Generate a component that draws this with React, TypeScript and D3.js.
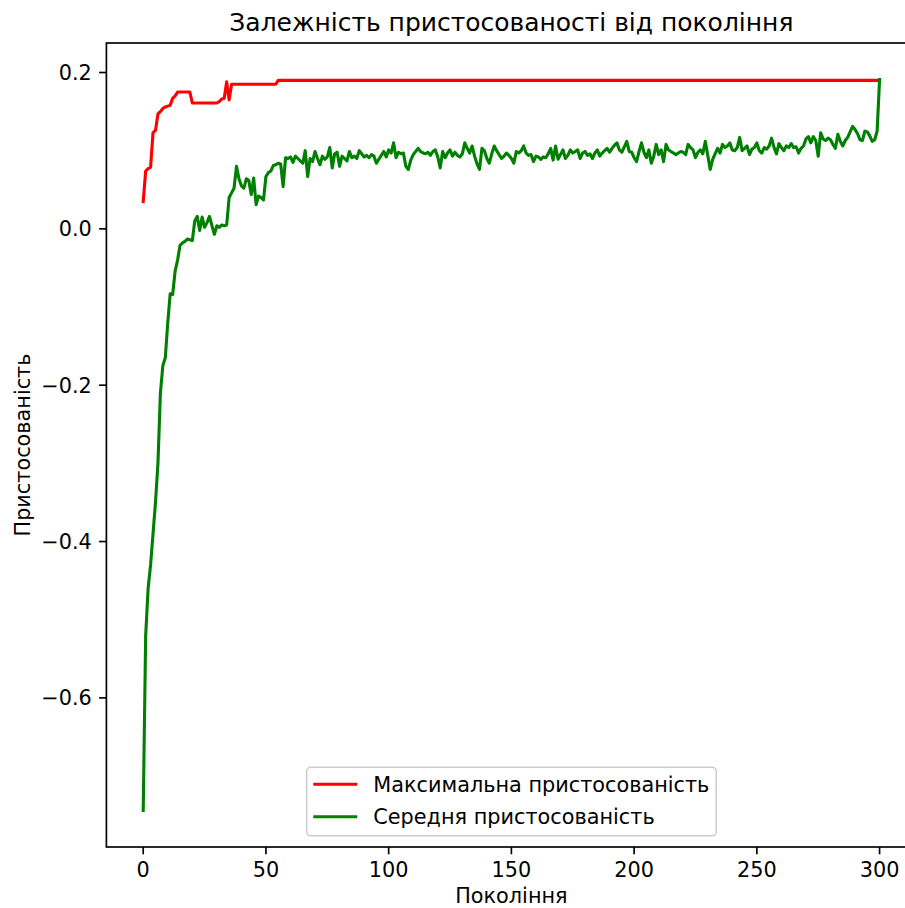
import React from "react";
import * as d3 from "d3";

// Generation numbers 0..300
const generations: number[] = Array.from({ length: 301 }, (_, i) => i);

// Best fitness in each generation
const maxFitness: number[] = [
  0.035, 0.074, 0.077, 0.079, 0.123, 0.126, 0.147, 0.150, 0.154, 0.156,
  0.157, 0.158, 0.167, 0.170, 0.175, 0.175, 0.175, 0.175, 0.175, 0.175,
  0.161, 0.161, 0.161, 0.161, 0.161, 0.161, 0.161, 0.161, 0.161, 0.161,
  0.161, 0.163, 0.166, 0.167, 0.188, 0.165, 0.185, 0.185, 0.185, 0.185,
  0.185, 0.185, 0.185, 0.185, 0.185, 0.185, 0.185, 0.185, 0.185, 0.185,
  0.185, 0.185, 0.185, 0.185, 0.185, 0.190, 0.190, 0.190, 0.190, 0.190,
  0.190, 0.190, 0.190, 0.190, 0.190, 0.190, 0.190, 0.190, 0.190, 0.190,
  0.190, 0.190, 0.190, 0.190, 0.190, 0.190, 0.190, 0.190, 0.190, 0.190,
  0.190, 0.190, 0.190, 0.190, 0.190, 0.190, 0.190, 0.190, 0.190, 0.190,
  0.190, 0.190, 0.190, 0.190, 0.190, 0.190, 0.190, 0.190, 0.190, 0.190,
  0.190, 0.190, 0.190, 0.190, 0.190, 0.190, 0.190, 0.190, 0.190, 0.190,
  0.190, 0.190, 0.190, 0.190, 0.190, 0.190, 0.190, 0.190, 0.190, 0.190,
  0.190, 0.190, 0.190, 0.190, 0.190, 0.190, 0.190, 0.190, 0.190, 0.190,
  0.190, 0.190, 0.190, 0.190, 0.190, 0.190, 0.190, 0.190, 0.190, 0.190,
  0.190, 0.190, 0.190, 0.190, 0.190, 0.190, 0.190, 0.190, 0.190, 0.190,
  0.190, 0.190, 0.190, 0.190, 0.190, 0.190, 0.190, 0.190, 0.190, 0.190,
  0.190, 0.190, 0.190, 0.190, 0.190, 0.190, 0.190, 0.190, 0.190, 0.190,
  0.190, 0.190, 0.190, 0.190, 0.190, 0.190, 0.190, 0.190, 0.190, 0.190,
  0.190, 0.190, 0.190, 0.190, 0.190, 0.190, 0.190, 0.190, 0.190, 0.190,
  0.190, 0.190, 0.190, 0.190, 0.190, 0.190, 0.190, 0.190, 0.190, 0.190,
  0.190, 0.190, 0.190, 0.190, 0.190, 0.190, 0.190, 0.190, 0.190, 0.190,
  0.190, 0.190, 0.190, 0.190, 0.190, 0.190, 0.190, 0.190, 0.190, 0.190,
  0.190, 0.190, 0.190, 0.190, 0.190, 0.190, 0.190, 0.190, 0.190, 0.190,
  0.190, 0.190, 0.190, 0.190, 0.190, 0.190, 0.190, 0.190, 0.190, 0.190,
  0.190, 0.190, 0.190, 0.190, 0.190, 0.190, 0.190, 0.190, 0.190, 0.190,
  0.190, 0.190, 0.190, 0.190, 0.190, 0.190, 0.190, 0.190, 0.190, 0.190,
  0.190, 0.190, 0.190, 0.190, 0.190, 0.190, 0.190, 0.190, 0.190, 0.190,
  0.190, 0.190, 0.190, 0.190, 0.190, 0.190, 0.190, 0.190, 0.190, 0.190,
  0.190, 0.190, 0.190, 0.190, 0.190, 0.190, 0.190, 0.190, 0.190, 0.190,
  0.190, 0.190, 0.190, 0.190, 0.190, 0.190, 0.190, 0.190, 0.190, 0.190,
  0.190,
];

// Mean fitness of the population in each generation
const meanFitness: number[] = [
  -0.744, -0.520, -0.460, -0.430, -0.390, -0.350, -0.300, -0.210, -0.175, -0.165,
  -0.120, -0.083, -0.084, -0.054, -0.040, -0.021, -0.018, -0.016, -0.013, -0.014,
  -0.015, 0.010, 0.016, -0.002, 0.015, 0.002, 0.008, 0.016, 0.004, -0.007,
  0.004, 0.002, 0.005, 0.004, 0.005, 0.040, 0.046, 0.052, 0.080, 0.064,
  0.055, 0.052, 0.064, 0.062, 0.044, 0.065, 0.031, 0.042, 0.040, 0.037,
  0.067, 0.072, 0.074, 0.081, 0.082, 0.084, 0.083, 0.054, 0.091, 0.090,
  0.092, 0.085, 0.093, 0.090, 0.087, 0.084, 0.100, 0.067, 0.090, 0.086,
  0.099, 0.090, 0.082, 0.093, 0.089, 0.092, 0.104, 0.078, 0.096, 0.098,
  0.080, 0.093, 0.090, 0.087, 0.099, 0.091, 0.093, 0.090, 0.100, 0.096,
  0.092, 0.094, 0.091, 0.095, 0.093, 0.084, 0.089, 0.094, 0.099, 0.092,
  0.101, 0.097, 0.110, 0.091, 0.098, 0.096, 0.097, 0.080, 0.076, 0.088,
  0.095, 0.099, 0.103, 0.099, 0.097, 0.096, 0.098, 0.094, 0.099, 0.101,
  0.092, 0.078, 0.099, 0.091, 0.097, 0.101, 0.093, 0.098, 0.094, 0.092,
  0.096, 0.110, 0.103, 0.097, 0.106, 0.093, 0.083, 0.076, 0.103, 0.100,
  0.090, 0.084, 0.096, 0.106, 0.100, 0.095, 0.090, 0.093, 0.097, 0.094,
  0.090, 0.084, 0.099, 0.097, 0.100, 0.106, 0.097, 0.094, 0.095, 0.086,
  0.093, 0.092, 0.089, 0.092, 0.091, 0.096, 0.103, 0.088, 0.106, 0.089,
  0.095, 0.101, 0.090, 0.094, 0.101, 0.097, 0.099, 0.101, 0.090, 0.097,
  0.099, 0.094, 0.096, 0.090, 0.097, 0.101, 0.093, 0.097, 0.100, 0.103,
  0.098, 0.103, 0.107, 0.110, 0.101, 0.098, 0.105, 0.112, 0.099, 0.098,
  0.091, 0.086, 0.099, 0.110, 0.098, 0.091, 0.101, 0.084, 0.093, 0.108,
  0.095, 0.101, 0.086, 0.108, 0.101, 0.099, 0.097, 0.095, 0.097, 0.099,
  0.098, 0.095, 0.108, 0.104, 0.101, 0.091, 0.098, 0.101, 0.096, 0.112,
  0.094, 0.076, 0.089, 0.096, 0.103, 0.097, 0.108, 0.104, 0.106, 0.110,
  0.101, 0.100, 0.104, 0.117, 0.100, 0.103, 0.106, 0.095, 0.102, 0.104,
  0.110, 0.100, 0.097, 0.104, 0.102, 0.106, 0.116, 0.104, 0.096, 0.109,
  0.104, 0.100, 0.106, 0.104, 0.109, 0.104, 0.105, 0.097, 0.103, 0.106,
  0.115, 0.118, 0.110, 0.118, 0.113, 0.093, 0.123, 0.115, 0.113, 0.116,
  0.114, 0.108, 0.103, 0.121, 0.112, 0.106, 0.113, 0.117, 0.124, 0.131,
  0.127, 0.122, 0.114, 0.113, 0.125, 0.124, 0.119, 0.112, 0.114, 0.125,
  0.191,
];

const seriesLabels = ["Максимальна пристосованість", "Середня пристосованість"];
const seriesColors = ["#ff0000", "#008000"];

const titleText = "Залежність пристосованості від покоління";
const xLabelText = "Покоління";
const yLabelText = "Пристосованість";

const W = 905;
const H = 908;
const plot = { left: 106.4, right: 916.4, top: 43, bottom: 847 };
const FONT = "'DejaVu Sans', sans-serif";
const FS = 20.8;
const TICK = 7.3;
const PAD = 7.3;
const SPINE = 1.67;
const LW = 3.1;

export default function App() {
  const xExt = d3.extent(generations) as [number, number];
  const allY = [...maxFitness, ...meanFitness];
  const yMin = d3.min(allY) as number;
  const yMax = d3.max(allY) as number;
  const xPad = (xExt[1] - xExt[0]) * 0.05;
  const yPad = (yMax - yMin) * 0.05;

  const x = d3
    .scaleLinear()
    .domain([xExt[0] - xPad, xExt[1] + xPad])
    .range([plot.left, plot.right]);
  const y = d3
    .scaleLinear()
    .domain([yMin - yPad, yMax + yPad])
    .range([plot.bottom, plot.top]);

  const xTicks = x.ticks(7).filter((t) => t >= 0 && t <= 300);
  const yTicks = y.ticks(5);
  const yFmt = d3.format(".1f");

  const line = d3
    .line<number>()
    .x((_, i) => x(generations[i]))
    .y((d) => y(d));

  const series = [maxFitness, meanFitness];

  const legend = { x: 306.7, y: 767.3, w: 409.5, h: 68.5 };

  return (
    <svg
      width={W}
      height={H}
      style={{ position: "absolute", left: 0, top: 0, background: "#fff" }}
      fontFamily={FONT}
    >
      <rect x={0} y={0} width={W} height={H} fill="#fff" />
      <defs>
        <clipPath id="plotArea">
          <rect
            x={plot.left}
            y={plot.top}
            width={plot.right - plot.left}
            height={plot.bottom - plot.top}
          />
        </clipPath>
      </defs>

      {/* series */}
      <g clipPath="url(#plotArea)">
        {series.map((s, k) => (
          <path
            key={k}
            d={line(s) ?? ""}
            fill="none"
            stroke={seriesColors[k]}
            strokeWidth={LW}
            strokeLinejoin="round"
            strokeLinecap="square"
          />
        ))}
      </g>

      {/* spines */}
      <rect
        x={plot.left}
        y={plot.top}
        width={plot.right - plot.left}
        height={plot.bottom - plot.top}
        fill="none"
        stroke="#000"
        strokeWidth={SPINE}
      />

      {/* x axis */}
      {xTicks.map((t) => (
        <g key={`x${t}`}>
          <line
            x1={x(t)}
            x2={x(t)}
            y1={plot.bottom}
            y2={plot.bottom + TICK}
            stroke="#000"
            strokeWidth={SPINE}
          />
          <text
            x={x(t)}
            y={plot.bottom + TICK + PAD + 15.4}
            textAnchor="middle"
            fontSize={FS}
            fill="#000"
          >
            {t}
          </text>
        </g>
      ))}

      {/* y axis */}
      {yTicks.map((t) => (
        <g key={`y${t}`}>
          <line
            x1={plot.left - TICK}
            x2={plot.left}
            y1={y(t)}
            y2={y(t)}
            stroke="#000"
            strokeWidth={SPINE}
          />
          <text
            x={plot.left - TICK - PAD}
            y={y(t)}
            dy="0.36em"
            textAnchor="end"
            fontSize={FS}
            fill="#000"
          >
            {yFmt(t)}
          </text>
        </g>
      ))}

      {/* labels */}
      <text
        x={(plot.left + plot.right) / 2}
        y={30.5}
        textAnchor="middle"
        fontSize={FS * 1.2}
        fill="#000"
      >
        {titleText}
      </text>
      <text
        x={(plot.left + plot.right) / 2}
        y={903}
        textAnchor="middle"
        fontSize={FS}
        fill="#000"
      >
        {xLabelText}
      </text>
      <text
        transform={`translate(29.5, ${(plot.top + plot.bottom) / 2}) rotate(-90)`}
        textAnchor="middle"
        fontSize={FS}
        fill="#000"
      >
        {yLabelText}
      </text>

      {/* legend */}
      <g>
        <rect
          x={legend.x}
          y={legend.y}
          width={legend.w}
          height={legend.h}
          rx={4}
          fill="#fff"
          fillOpacity={0.8}
          stroke="#cccccc"
          strokeWidth={1.5}
        />
        {seriesLabels.map((lab, k) => {
          const cy = 784.3 + k * 32.4;
          return (
            <g key={lab}>
              <line
                x1={313.3}
                x2={357.3}
                y1={cy}
                y2={cy}
                stroke={seriesColors[k]}
                strokeWidth={LW}
              />
              <text x={373.3} y={cy} dy="0.36em" fontSize={FS} fill="#000">
                {lab}
              </text>
            </g>
          );
        })}
      </g>
    </svg>
  );
}
